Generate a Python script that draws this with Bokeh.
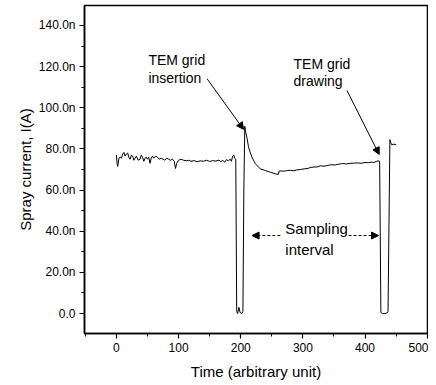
from bokeh.plotting import figure
from bokeh.models import Range1d, Label, Arrow, NormalHead, FixedTicker
from bokeh.embed import file_html
from bokeh.resources import INLINE

# ---- data ----
time = [0, 1, 2, 4, 6, 8, 10, 12, 14, 16, 18, 20, 22, 24, 26, 28, 30, 32, 35, 38,
        40, 42, 44, 46, 48, 50, 52, 54, 56, 58, 60, 63, 66, 69, 72, 75, 78, 81, 84, 87,
        90, 93, 95, 97, 100, 104, 108, 112, 116, 120, 125, 130, 135, 140, 145, 150, 155, 160, 165, 168,
        171, 174, 177, 180, 183, 185, 187, 189, 190, 192,
        193.5, 195, 197, 199, 202, 203.5,
        205, 206.5, 208, 210, 212.5, 215, 218, 223.5, 231.5, 239.5, 247.5, 255.5, 260.5, 262,
        266, 270, 275, 280, 285, 290, 296, 302, 308, 312, 318, 324, 328, 334, 340, 346,
        352, 358, 364, 370, 376, 382, 388, 394, 400, 406, 410, 414, 418, 421, 423.5,
        425.5, 428, 432, 435.5, 437,
        440, 441.5, 443, 446, 450]
current = [77, 73, 71.5, 75.5, 76, 75.5, 77.5, 78.3, 76.5, 77.5, 78, 76, 75, 77, 76.5, 74.5, 75.5, 76.5, 74.5, 75,
           77, 76, 74, 75.5, 76, 75, 76, 73, 75.5, 76.5, 75.5, 76.5, 76, 75, 75.5, 75, 74.5, 75.5, 75, 74.5,
           75, 74, 70.5, 73, 74.5, 75, 74.5, 74.2, 74.5, 74, 74.3, 73.8, 74.2, 74, 74.5, 73.9, 74.3, 74.1, 74.6, 73.8,
           74.5, 73.5, 74.8, 74.2, 75, 74, 76.5, 77, 75.5, 75,
           1, 0, 3, 0.5, 0, 1,
           60, 91, 88, 85.5, 81, 78.5, 76, 72.8, 70.3, 69.5, 68.7, 67.9, 67.6, 69.3,
           69.3, 69.2, 69.5, 69.6, 69.4, 69.8, 70, 70.3, 70.5, 71, 71.2, 71.3, 71.8, 71.6, 72, 72.3,
           72.2, 72.6, 72.9, 72.7, 73, 73.1, 73.2, 73.0, 73.4, 73.3, 73.6, 73.4, 73.9, 74.2, 74,
           0.5, 0, 0, 0.3, 1,
           84.5, 83, 82, 82.3, 82]

x_ticks = [0, 100, 200, 300, 400, 500]
y_ticks = [0, 20, 40, 60, 80, 100, 120, 140]
y_tick_labels = ["0.0", "20.0n", "40.0n", "60.0n", "80.0n", "100.0n", "120.0n", "140.0n"]

FONT = "Liberation Sans"

p = figure(width=428, height=385, output_backend="svg", toolbar_location=None,
           x_range=Range1d(-51.4, 500.5), y_range=Range1d(-9.7, 149.7),
           min_border_left=84, min_border_right=1, min_border_top=5, min_border_bottom=52)
p.background_fill_color = "white"
p.border_fill_color = "white"
p.outline_line_color = "black"
p.outline_line_width = 1.5
p.xgrid.visible = False
p.ygrid.visible = False

p.line(time, current, line_color="black", line_width=1.0)

# axes
p.xaxis.ticker = FixedTicker(ticks=x_ticks, minor_ticks=[-50, 50, 150, 250, 350, 450])
p.yaxis.ticker = FixedTicker(ticks=y_ticks, minor_ticks=[-10, 10, 30, 50, 70, 90, 110, 130])
p.yaxis.major_label_overrides = {t: l for t, l in zip(y_ticks, y_tick_labels)}
for ax in (p.xaxis[0], p.yaxis[0]):
    ax.axis_line_color = "black"
    ax.axis_line_width = 1.5
    ax.major_tick_line_color = "black"
    ax.minor_tick_line_color = "black"
    ax.major_tick_line_width = 1.2
    ax.major_tick_out = 5
    ax.major_tick_in = 0
    ax.minor_tick_out = 3
    ax.minor_tick_in = 0
    ax.major_label_text_font = FONT
    ax.major_label_text_font_size = "12px"
    ax.major_label_text_color = "black"
    ax.major_label_standoff = 4
    ax.axis_label_text_font = FONT
    ax.axis_label_text_font_size = "15px"
    ax.axis_label_text_font_style = "normal"
    ax.axis_label_text_color = "black"
p.xaxis.axis_label = "Time (arbitrary unit)"
p.yaxis.axis_label = "Spray current, I(A)"
p.xaxis.axis_label_standoff = 8
p.yaxis.axis_label_standoff = 2

# annotations
def lab(x, y, t, size="14px"):
    p.add_layout(Label(x=x, y=y, text=t, text_font=FONT, text_font_size=size,
                       text_color="black", text_baseline="alphabetic", text_align="left"))

lab(51.4, 123.2, "TEM grid")
lab(51.4, 114.5, "insertion")
lab(285.0, 121.3, "TEM grid")
lab(285.0, 113.0, "drawing")
lab(271.7, 41.3, "Sampling", "15px")
lab(271.7, 30.9, "interval", "15px")

def arrow(x0, y0, x1, y1, dash="solid"):
    p.add_layout(Arrow(x_start=x0, y_start=y0, x_end=x1, y_end=y1,
                       line_color="black", line_width=1, line_dash=dash,
                       end=NormalHead(size=7, fill_color="black", line_color="black")))

arrow(145.8, 114.1, 204.5, 89.5)
arrow(370.9, 108.4, 422.8, 77.3)
arrow(263.7, 37.9, 218.2, 37.9, "3 2")
arrow(373.5, 37.9, 421.7, 37.9, "3 2")

open("out.html", "w").write(file_html(p, INLINE))
